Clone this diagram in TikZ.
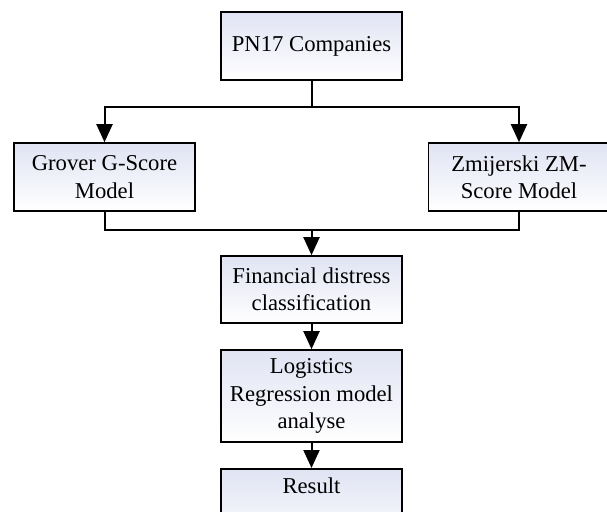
\documentclass[tikz,border=0pt]{standalone}
\usepackage{fontspec}
\setmainfont{Liberation Serif}
\usetikzlibrary{arrows.meta}
\definecolor{boxtop}{RGB}{224,227,243}
\begin{document}
\begin{tikzpicture}[x=0.75pt,y=-0.75pt,
    stage/.style={draw=black,line width=1.2pt,top color=boxtop,bottom color=white,
        minimum width=135.75pt,minimum height=51pt,align=center,inner sep=3pt,
        font=\fontsize{17}{20.5}\selectfont},
    link/.style={line width=1.5pt},
    flow/.style={line width=1.5pt,-{Triangle[width=12pt,length=13.5pt]}}]
    \clip (0,0) rectangle (607,511);
    \useasboundingbox (0,0) rectangle (607,511);
    \node[stage] (firms) at (311.5,46) {PN17 Companies};
    \node[stage] (grover) at (104.5,177) {Grover G-Score\\Model};
    \node[stage] (zmij) at (519,177) {Zmijerski ZM-\\Score Model};
    \node[stage,minimum height=50.25pt] (classif) at (311.5,289.5) {Financial distress\\classification};
    \node[stage,minimum height=69pt] (logit) at (311.5,396) {Logistics\\Regression model\\analyse};
    \node[stage,anchor=north,text height=15.5pt,text depth=40pt] (result) at (311.5,468) {Result};
    \coordinate (split) at (311.5,107);
    \coordinate (merge) at (311.5,230);
    \draw[link] (firms) -- (split);
    \draw[flow] (split) -| (grover);
    \draw[flow] (split) -| (zmij);
    \draw[link] (grover) |- (merge);
    \draw[link] (zmij) |- (merge);
    \draw[flow] (merge) -- (classif);
    \draw[flow] (classif) -- (logit);
    \draw[flow] (logit) -- (result);
\end{tikzpicture}
\end{document}
